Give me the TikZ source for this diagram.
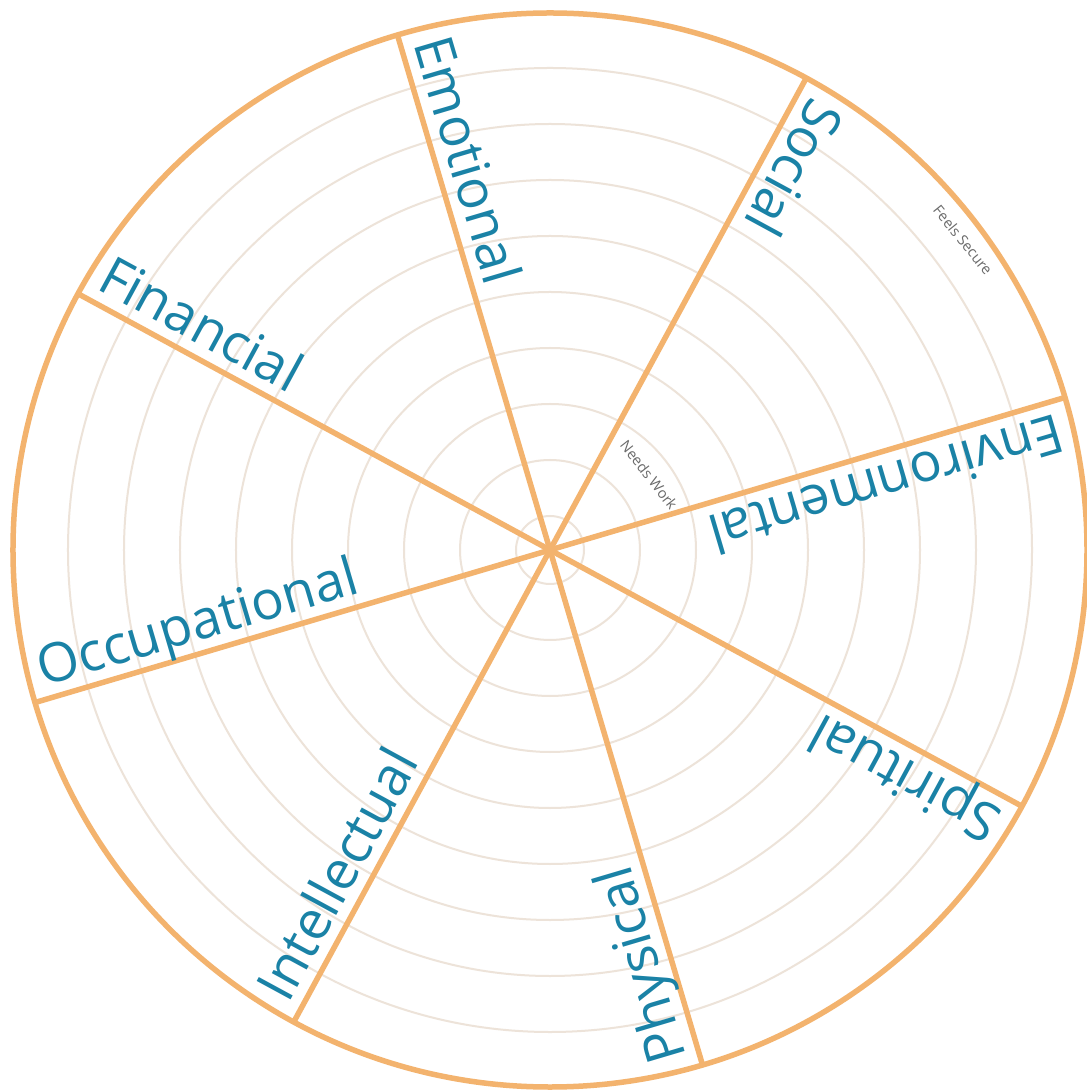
\documentclass[tikz,border=0pt]{standalone}
\usepackage{fontspec}
\setmainfont{Open Sans}
\usetikzlibrary{calc}
\definecolor{wheelorange}{HTML}{F3B36E}
\definecolor{ringcol}{HTML}{EDE3D9}
\definecolor{labelblue}{HTML}{1A82A6}
\definecolor{notegray}{HTML}{6A6A6A}
\begin{document}
\begin{tikzpicture}[x=1pt,y=1pt,
  ring/.style={draw=ringcol, line width=2pt},
  rim/.style={draw=wheelorange, line width=5.5pt},
  spoke/.style={draw=wheelorange, line width=5.5pt},
  area/.style={text=labelblue, font=\fontsize{54}{54}\selectfont, inner sep=0pt, anchor=base west},
  note/.style={text=notegray, font=\fontsize{14.5}{14.5}\selectfont, inner sep=0pt}]
\useasboundingbox (-550pt,-541pt) rectangle (536pt,550pt);
\fill[white] (-550pt,-541pt) rectangle (536pt,550pt);
\coordinate (c) at (0pt,0pt);
\foreach \r in {34,90,...,482} \draw[ring] (c) circle[radius=\r pt];
\foreach \a [count=\i] in {16.5,61.5,106.5,151.5,196.5,241.5,286.5,331.5} {
  \coordinate (s\i) at (\a:537pt);
  \draw[spoke] (c) -- (s\i);
}
\draw[rim] (c) circle[radius=537pt];
\foreach \a/\t in {106.5/Emotional,151.5/Financial,196.5/Occupational,241.5/Intellectual,286.5/Physical,331.5/Spiritual,16.5/Environmental,61.5/Social} {
  \node[area, rotate=\a-180] (lab-\t) at ($(\a:525pt)+(\a-90:13pt)$) {\t};
}
\node[note, rotate=-52] (needs) at (99pt,75pt) {Needs Work};
\node[note, rotate=-51] (feels) at (413pt,310pt) {Feels Secure};
\end{tikzpicture}
\end{document}
